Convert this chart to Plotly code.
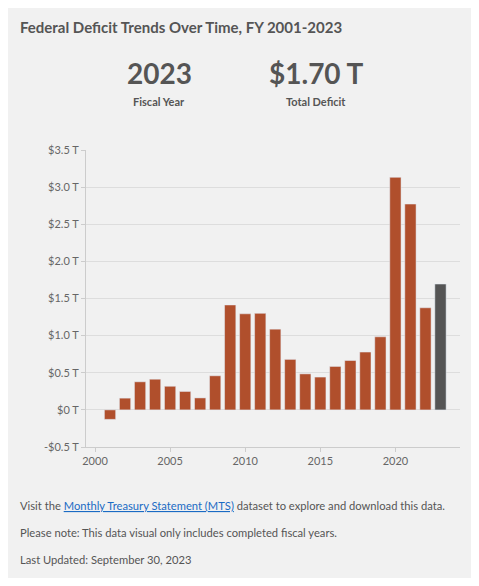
import plotly.graph_objects as go

years = list(range(2001, 2024))
deficit = [-0.128, 0.158, 0.378, 0.413, 0.318, 0.248, 0.161, 0.459, 1.413, 1.294,
           1.300, 1.087, 0.680, 0.485, 0.442, 0.585, 0.665, 0.779, 0.984, 3.132,
           2.772, 1.375, 1.695]
tick_vals = [-0.5, 0, 0.5, 1.0, 1.5, 2.0, 2.5, 3.0, 3.5]
tick_text = ["-$0.5 T", "$0 T", "$0.5 T", "$1.0 T", "$1.5 T", "$2.0 T", "$2.5 T", "$3.0 T", "$3.5 T"]

colors = ["#b04f2c"] * (len(years) - 1) + ["#555555"]
FONT = "Lato"

# page has an 8px body margin, so the figure is 16px smaller than the window
W, H = 463, 570
L, R, T, B = 78, 11, 142, 131
PW, PH = W - L - R, H - T - B

fig = go.Figure(go.Bar(x=years, y=deficit, marker_color=colors, width=0.75))

fig.update_layout(
    width=W, height=H,
    paper_bgcolor="#f1f1f1", plot_bgcolor="#f1f1f1",
    font=dict(family=FONT, color="#666666", size=11),
    margin=dict(l=L, r=R, t=T, b=B),
    showlegend=False,
    xaxis=dict(range=[1999.4, 2024.3], tickvals=[2000, 2005, 2010, 2015, 2020],
               showgrid=False, showline=True, linecolor="#cccccc", ticks="outside",
               tickcolor="#cccccc", ticklen=4),
    yaxis=dict(range=[-0.5, 3.5], tickvals=tick_vals, ticktext=tick_text,
               gridcolor="#dddddd", zeroline=False, showline=True, linecolor="#cccccc",
               ticks="outside", tickcolor="#cccccc", ticklen=4),
)

# x, y in reference pixels (from top-left of the window)
ann = [
    dict(text="<b>Federal Deficit Trends Over Time, FY 2001-2023</b>", x=18, y=27, size=15, xanchor="left"),
    dict(text="<b>2023</b>", x=159, y=73, size=28, xanchor="center"),
    dict(text="<b>Fiscal Year</b>", x=159, y=101, size=11, xanchor="center"),
    dict(text="<b>$1.70 T</b>", x=316, y=73, size=28, xanchor="center"),
    dict(text="<b>Total Deficit</b>", x=316, y=101, size=11, xanchor="center"),
    dict(text="Visit the <a href='#' style='color:#1a6bc4'><u>Monthly Treasury Statement (MTS)</u></a> dataset to explore and download this data.",
         x=18, y=505, size=11.2, xanchor="left"),
    dict(text="Please note: This data visual only includes completed fiscal years.", x=18, y=532, size=11.2, xanchor="left"),
    dict(text="Last Updated: September 30, 2023", x=18, y=559, size=11.2, xanchor="left"),
]
for a in ann:
    px, py = a["x"] - 8, a["y"] - 8
    fig.add_annotation(text=a["text"], xref="paper", yref="paper",
                       x=(px - L) / PW, y=(H - py - B) / PH,
                       xanchor=a["xanchor"], yanchor="middle",
                       showarrow=False, font=dict(size=a["size"], color="#555555", family=FONT))

fig.write_html("out.html")
